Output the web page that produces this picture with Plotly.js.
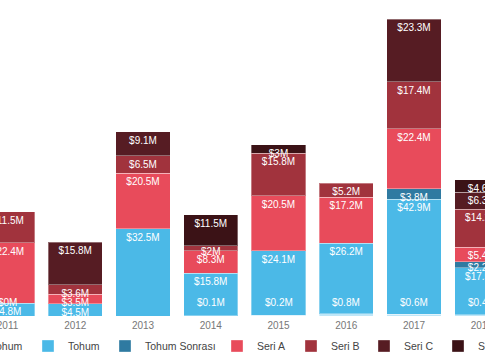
<!DOCTYPE html>
<html>
<head>
<meta charset="utf-8">
<script src="https://cdn.plot.ly/plotly-3.0.1.min.js"></script>
<style>html,body{margin:0;padding:0;background:#fff;}#chart{width:485px;height:360px;}</style>
</head>
<body>
<div id="chart"></div>
<script>
var years = ['2011','2012','2013','2014','2015','2016','2017','2018'];
var onTohum      = [0,    null, null, 0.1,  0.2,  0.8,  0.6,  0.4];
var tohum        = [4.8,  4.5,  32.5, 15.8, 24.1, 26.2, 42.9, 17.5];
var tohumSonrasi = [null, null, null, null, null, null, 3.8,  2.2];
var seriA        = [22.4, 3.5,  20.5, 8.3,  20.5, 17.2, 22.4, 5.4];
var seriB        = [11.5, 3.6,  6.5,  2,    15.8, 5.2,  17.4, 14.2];
var seriC        = [null, 15.8, 9.1,  null, null, null, 23.3, 6.3];
var seriD        = [null, null, null, 11.5, 3,    null, null, 4.6];

var seriesNames = ['Ön Tohum','Tohum','Tohum Sonrası','Seri A','Seri B','Seri C','Seri D'];
var seriesData = [onTohum, tohum, tohumSonrasi, seriA, seriB, seriC, seriD];
var colors = ['#bfe6f7','#4bb9e7','#2f7aa1','#e84b5b','#a1333d','#561c23','#3b1216'];

var FONT = 'Liberation Sans, Arial, Helvetica, sans-serif';
var legendIds = ['legend','legend2','legend3','legend4','legend5','legend6','legend7'];
// text start pixel of each legend entry
var legendTextX = [-26, 68, 145, 257, 331, 404, 478];

function fmt(v){ return '$' + v + 'M'; }

var traces = seriesData.map(function(vals, k){
  return {
    type: 'bar',
    name: seriesNames[k],
    x: years,
    y: vals,
    // pre-seed labels are drawn as annotations so they stay above the stack
    text: vals.map(function(v){ return (v == null || k === 0) ? '' : fmt(v); }),
    textposition: 'inside',
    insidetextanchor: 'end',
    constraintext: 'none',
    textangle: 0,
    textfont: {family: FONT, size: 10, color: '#ffffff'},
    marker: {color: colors[k], line: {color: 'rgba(255,255,255,0.35)', width: 1}},
    legend: legendIds[k],
    hoverinfo: 'name+y'
  };
});

var annotations = [];
onTohum.forEach(function(v, i){
  if (v == null) return;
  annotations.push({
    x: i, y: 0, xref: 'x', yref: 'y',   // category index of years[i], at the bar base
    text: fmt(v), showarrow: false,
    yanchor: 'bottom', xanchor: 'center', yshift: 6,
    font: {family: FONT, size: 10, color: '#ffffff'}
  });
});

var layout = {
  width: 485, height: 360,
  margin: {l: 0, r: 0, t: 0, b: 44, autoexpand: false},
  paper_bgcolor: '#ffffff', plot_bgcolor: '#ffffff',
  barmode: 'stack',
  bargap: 0.2,
  showlegend: true,
  font: {family: FONT, size: 10, color: '#444'},
  xaxis: {
    type: 'category',
    range: [-0.111, 7.048],
    showgrid: false, zeroline: false, showline: false, ticks: '',
    ticklabelstandoff: 2,
    tickfont: {family: FONT, size: 10, color: '#777'},
    fixedrange: true
  },
  yaxis: {range: [0, 117.5], visible: false, fixedrange: true},
  annotations: annotations
};

legendIds.forEach(function(id, k){
  layout[id] = {
    orientation: 'h',
    x: (legendTextX[k] - 40) / 485,
    xanchor: 'left',
    y: (316 - 346) / 316,
    yanchor: 'middle',
    bgcolor: 'rgba(0,0,0,0)',
    font: {family: FONT, size: 10.5, color: '#444'},
    itemclick: false, itemdoubleclick: false
  };
});

Plotly.newPlot('chart', traces, layout, {displayModeBar: false, staticPlot: true});
</script>
</body>
</html>
